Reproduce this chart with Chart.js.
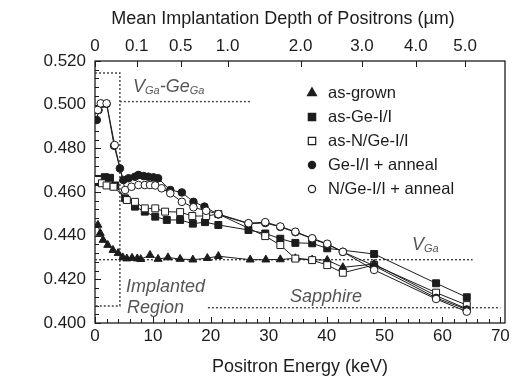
<!DOCTYPE html>
<html><head><meta charset="utf-8">
<script src="https://cdn.jsdelivr.net/npm/chart.js@4/dist/chart.umd.min.js"></script>
<style>html,body{margin:0;padding:0;background:#fff;}#wrap{width:517px;height:378px;}</style>
</head><body><div id="wrap"><canvas id="c" width="517" height="378"></canvas></div>
<script>
// ---- data ----
const xTicks = [0, 10, 20, 30, 40, 50, 60, 70];
const yTicks = [0.400, 0.420, 0.440, 0.460, 0.480, 0.500, 0.520];
const topTickEnergies = [0, 7.2, 14.8, 22.9, 35.5, 46.1, 55.4, 63.9];
const topTickLabels = ["0", "0.1", "0.5", "1.0", "2.0", "3.0", "4.0", "5.0"];

const seriesNames = ["as-grown", "as-Ge-I/I", "as-N/Ge-I/I", "Ge-I/I + anneal", "N/Ge-I/I + anneal"];

const asGrownE = [0.5, 0.9, 1.4, 2.2, 3.1, 4.0, 4.8, 5.5, 6.4, 7.3, 7.9, 9.5, 10.9, 12.6, 14.7, 16.9, 19.4, 21.3, 26.8, 29.5, 32.0, 34.6, 37.5, 40.1, 42.8, 48.2, 58.9, 64.2];
const asGrownS = [0.4449, 0.4412, 0.4380, 0.4357, 0.4334, 0.4320, 0.4300, 0.4295, 0.4298, 0.4295, 0.4292, 0.4311, 0.4293, 0.4300, 0.4293, 0.4290, 0.4297, 0.4306, 0.4290, 0.4290, 0.4291, 0.4296, 0.4290, 0.4288, 0.4255, 0.4270, 0.4125, 0.4065];

const asGeE = [0.5, 1.0, 1.7, 2.6, 3.5, 5.2, 6.9, 8.6, 10.4, 12.4, 14.7, 16.9, 19.0, 21.3, 26.5, 29.4, 32.0, 34.6, 37.5, 40.1, 48.2, 58.9, 64.2];
const asGeS = [0.4645, 0.4660, 0.4668, 0.4665, 0.4630, 0.4571, 0.4533, 0.4510, 0.4487, 0.4472, 0.4472, 0.4455, 0.4462, 0.4449, 0.4426, 0.4410, 0.4386, 0.4367, 0.4365, 0.4342, 0.4316, 0.4182, 0.4118];

const asNGeE = [0.5, 1.2, 2.0, 3.2, 5.5, 6.9, 8.6, 10.4, 12.1, 14.7, 16.8, 19.2, 21.3, 29.4, 32.0, 34.6, 37.5, 40.1, 42.8, 48.2, 58.9, 64.2];
const asNGeS = [0.4655, 0.4640, 0.4630, 0.4624, 0.4563, 0.4555, 0.4525, 0.4525, 0.4510, 0.4508, 0.4490, 0.4490, 0.4499, 0.4398, 0.4357, 0.4295, 0.4288, 0.4265, 0.4230, 0.4266, 0.4139, 0.4082];

const geAnnE = [0.3, 0.6, 1.2, 2.0, 3.3, 4.3, 4.9, 5.8, 6.9, 7.5, 8.4, 9.2, 10.1, 10.9, 13.0, 15.0, 17.0, 18.9, 21.3, 26.5, 29.4, 32.0, 34.6, 37.5, 40.1, 42.8, 48.2, 58.9, 64.2];
const geAnnS = [0.4930, 0.4975, 0.5004, 0.5004, 0.4812, 0.4708, 0.4655, 0.4663, 0.4670, 0.4678, 0.4673, 0.4670, 0.4667, 0.4663, 0.4609, 0.4598, 0.4555, 0.4533, 0.4497, 0.4455, 0.4458, 0.4440, 0.4416, 0.4386, 0.4360, 0.4326, 0.4262, 0.4115, 0.4062];

const nGeAnnE = [0.5, 1.0, 2.0, 3.4, 5.2, 6.3, 7.5, 8.6, 9.5, 10.4, 11.5, 13.0, 15.0, 17.0, 19.2, 21.3, 26.5, 29.4, 32.0, 34.6, 37.5, 40.1, 42.8, 48.2, 58.9, 64.2];
const nGeAnnS = [0.4976, 0.5006, 0.5006, 0.4815, 0.4609, 0.4624, 0.4632, 0.4632, 0.4632, 0.4630, 0.4617, 0.4594, 0.4555, 0.4530, 0.4514, 0.4499, 0.4457, 0.4462, 0.4442, 0.4418, 0.4388, 0.4363, 0.4326, 0.4243, 0.4110, 0.4052];

// dotted reference lines
const vGaLineE = [0, 65.2];        const vGaLineS = [0.429, 0.429];
const sapphireLineE = [19.5, 70];  const sapphireLineS = [0.407, 0.407];
const vGaGeGaLineE = [4.3, 27.0];  const vGaGeGaLineS = [0.5014, 0.5014];
const implantBoxE = [0, 4.3, 4.3, 0];
const implantBoxS = [0.5145, 0.5145, 0.4078, 0.4078];

// ---- helpers ----
const pts = (E, S) => E.map((e, i) => ({x: e, y: S[i]}));
const INK = '#1c1c1c';
const FONT = '"Liberation Sans", Arial, Helvetica, sans-serif';

function series(label, E, S, style, radius, filled) {
  return {
    label, data: pts(E, S), type: 'line',
    borderColor: INK, borderWidth: 1, tension: 0,
    pointStyle: style, pointRadius: radius, pointHoverRadius: radius,
    pointBackgroundColor: filled ? INK : '#fff', pointBorderColor: INK, pointBorderWidth: 1,
    order: 1
  };
}
function dotted(E, S) {
  return {
    label: '', data: pts(E, S), type: 'line', borderColor: '#444', borderWidth: 1.4,
    borderDash: [2, 2], pointRadius: 0, tension: 0, order: 5
  };
}

const datasets = [
  series(seriesNames[4], nGeAnnE, nGeAnnS, 'circle', 3.8, false),
  series(seriesNames[3], geAnnE, geAnnS, 'circle', 3.8, true),
  series(seriesNames[2], asNGeE, asNGeS, 'rect', 4.9, false),
  series(seriesNames[1], asGeE, asGeS, 'rect', 4.9, true),
  series(seriesNames[0], asGrownE, asGrownS, 'triangle', 4.6, true),
  dotted(vGaLineE, vGaLineS),
  dotted(sapphireLineE, sapphireLineS),
  dotted(vGaGeGaLineE, vGaGeGaLineS),
  dotted(implantBoxE, implantBoxS)
];

const legendItems = [
  {name: seriesNames[0], style: 'triangle', r: 5.2, fill: true},
  {name: seriesNames[1], style: 'rect', r: 5.2, fill: true},
  {name: seriesNames[2], style: 'rect', r: 5.2, fill: false},
  {name: seriesNames[3], style: 'circle', r: 3.6, fill: true},
  {name: seriesNames[4], style: 'circle', r: 3.6, fill: false}
];

const bgPlugin = {
  id: 'bg',
  beforeDraw(chart) {
    const ctx = chart.ctx; ctx.save(); ctx.fillStyle = '#fff';
    ctx.fillRect(0, 0, chart.width, chart.height); ctx.restore();
  }
};

const framePlugin = {
  id: 'frame',
  beforeDatasetsDraw(chart) {
    const {ctx, chartArea: a, scales} = chart;
    const x = scales.x, x2 = scales.x2, y = scales.y;
    ctx.save();
    ctx.strokeStyle = INK; ctx.lineWidth = 1.3;
    ctx.strokeRect(a.left, a.top, a.right - a.left, a.bottom - a.top);
    ctx.lineWidth = 1;
    ctx.beginPath();
    for (let e = 0; e <= 70; e += 2) {
      const px = Math.round(x.getPixelForValue(e)) + 0.5;
      const len = e % 10 === 0 ? 6 : 4;
      ctx.moveTo(px, a.bottom); ctx.lineTo(px, a.bottom - len);
    }
    topTickEnergies.forEach(e => {
      const px = Math.round(x2.getPixelForValue(e)) + 0.5;
      ctx.moveTo(px, a.top); ctx.lineTo(px, a.top + 6);
    });
    for (let i = 0; i <= 30; i++) {
      const v = 0.4 + i * 0.004;
      const py = Math.round(y.getPixelForValue(v)) + 0.5;
      const len = i % 5 === 0 ? 6 : 4;
      ctx.moveTo(a.left, py); ctx.lineTo(a.left + len, py);
    }
    ctx.stroke();
    ctx.restore();
  },
  afterDatasetsDraw(chart) {
    const {ctx, scales} = chart;
    const x = scales.x, y = scales.y;
    ctx.save();
    // legend
    ctx.font = '16.5px ' + FONT; ctx.textBaseline = 'middle'; ctx.textAlign = 'left';
    legendItems.forEach((it, i) => {
      const ly = 93 + 24 * i;
      ctx.fillStyle = it.fill ? INK : '#fff'; ctx.strokeStyle = INK; ctx.lineWidth = 1.2;
      Chart.helpers.drawPoint(ctx, {pointStyle: it.style, radius: it.r, rotation: 0, borderWidth: 1.2}, 312, ly);
      ctx.fillStyle = INK;
      ctx.fillText(it.name, 328, ly);
    });
    // top axis title
    ctx.font = '18px ' + FONT; ctx.textAlign = 'center';
    ctx.fillText('Mean Implantation Depth of Positrons (\u00b5m)', 283, 19);
    // annotations (italic, grey)
    ctx.fillStyle = '#555'; ctx.textAlign = 'left';
    const sub = (parts, e, s) => {
      let px = x.getPixelForValue(e); const py = y.getPixelForValue(s);
      parts.forEach(([t, isSub]) => {
        ctx.font = 'italic ' + (isSub ? '11px ' : '18px ') + FONT;
        ctx.fillText(t, px, py + (isSub ? 4 : 0));
        px += ctx.measureText(t).width;
      });
    };
    sub([['V', false], ['Ga', true], ['-Ge', false], ['Ga', true]], 6.56, 0.5081);
    sub([['V', false], ['Ga', true]], 54.74, 0.4357);
    sub([['Implanted', false]], 5.35, 0.4165);
    sub([['Region', false]], 5.53, 0.4069);
    sub([['Sapphire', false]], 33.67, 0.4119);
    ctx.restore();
  }
};

Chart.defaults.font.family = FONT;
Chart.defaults.color = INK;

new Chart(document.getElementById('c'), {
  type: 'line',
  data: {datasets},
  options: {
    responsive: false, animation: false, devicePixelRatio: 1,
    layout: {padding: {left: 0, right: 12, top: 0, bottom: 0}},
    plugins: {legend: {display: false}, tooltip: {enabled: false}},
    scales: {
      x: {
        type: 'linear', position: 'bottom', min: 0, max: 70.8,
        afterBuildTicks: s => { s.ticks = xTicks.map(v => ({value: v})); },
        afterFit: s => { s.height = 55; },
        grid: {display: false, drawTicks: false}, border: {display: false},
        ticks: {font: {size: 17}, padding: 3, maxRotation: 0, autoSkip: false, color: INK},
        title: {display: true, text: 'Positron Energy (keV)', font: {size: 18}, padding: {top: 0, bottom: 0}, color: INK}
      },
      x2: {
        type: 'linear', position: 'top', min: 0, max: 70.8,
        afterBuildTicks: s => { s.ticks = topTickEnergies.map(v => ({value: v})); },
        afterFit: s => { s.height = 61; },
        grid: {display: false, drawTicks: false}, border: {display: false},
        ticks: {font: {size: 17}, padding: 4, maxRotation: 0, autoSkip: false, color: INK,
                callback: (v, i) => topTickLabels[i]}
      },
      y: {
        type: 'linear', position: 'left', min: 0.4, max: 0.52,
        afterBuildTicks: s => { s.ticks = yTicks.map(v => ({value: v})); },
        afterFit: s => { s.width = 95; },
        grid: {display: false, drawTicks: false}, border: {display: false},
        ticks: {font: {size: 17}, padding: 9, color: INK, callback: v => Number(v).toFixed(3)}
      }
    }
  },
  plugins: [bgPlugin, framePlugin]
});
</script></body></html>
